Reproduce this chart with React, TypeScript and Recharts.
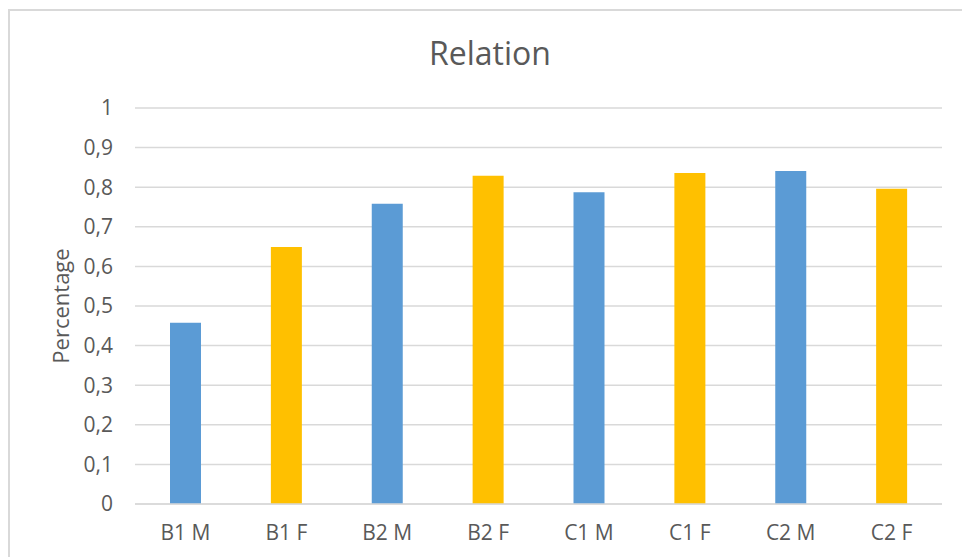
import { Bar, BarChart, CartesianGrid, Cell, XAxis, YAxis } from "recharts";

const categories = ["B1 M", "B1 F", "B2 M", "B2 F", "C1 M", "C1 F", "C2 M", "C2 F"];
const percentages = [0.458, 0.649, 0.758, 0.829, 0.787, 0.836, 0.841, 0.796];
const barColors = ["#5B9BD5", "#FFC000", "#5B9BD5", "#FFC000", "#5B9BD5", "#FFC000", "#5B9BD5", "#FFC000"];
const yTicks = [0, 0.1, 0.2, 0.3, 0.4, 0.5, 0.6, 0.7, 0.8, 0.9, 1];

const data = categories.map((name, i) => ({ name, value: percentages[i] }));

const FONT = "'Open Sans', 'Liberation Sans', sans-serif";
const TEXT = "#595959";
const LINE = "#d9d9d9";

const formatTick = (v: number) => String(Math.round(v * 10) / 10).replace(".", ",");

// rotated y-axis title, centred on the plot height
function AxisTitle({ viewBox }: any) {
  const x = (viewBox?.x ?? 0) + 60;
  const y = (viewBox?.y ?? 108) + (viewBox?.height ?? 396) / 2;
  return (
    <text
      x={x}
      y={y}
      transform={`rotate(-90, ${x}, ${y})`}
      textAnchor="middle"
      dominantBaseline="central"
      fill={TEXT}
      fontSize={22}
      fontFamily={FONT}
    >
      Percentage
    </text>
  );
}

export default function App() {
  return (
    <div style={{ position: "relative", width: 962, height: 557, overflow: "hidden", background: "#fff", fontFamily: FONT }}>
      <style>{`body { margin: 0; }`}</style>
      {/* chart frame, runs off the right and bottom edge */}
      <div
        style={{
          position: "absolute",
          left: 8,
          top: 9,
          width: 1000,
          height: 600,
          borderTop: `2px solid ${LINE}`,
          borderLeft: `2px solid ${LINE}`,
        }}
      />
      <div
        style={{
          position: "absolute",
          left: 0,
          top: 34,
          width: 980,
          textAlign: "center",
          fontSize: 32,
          lineHeight: "38px",
          color: TEXT,
        }}
      >
        Relation
      </div>
      <div style={{ position: "absolute", left: 0, top: 0 }}>
        <BarChart
          width={962}
          height={557}
          data={data}
          margin={{ top: 108, right: 20, bottom: 0, left: 0 }}
          barSize={31}
        >
          <CartesianGrid vertical={false} stroke={LINE} strokeWidth={1.5} />
          <XAxis
            dataKey="name"
            axisLine={{ stroke: LINE, strokeWidth: 1.5 }}
            tickLine={false}
            tickSize={0}
            tickMargin={21}
            height={53}
            interval={0}
            tick={{ fill: TEXT, fontSize: 21, fontFamily: FONT }}
          />
          <YAxis
            domain={[0, 1]}
            ticks={yTicks}
            interval={0}
            width={135}
            axisLine={false}
            tickLine={false}
            tickSize={0}
            tickMargin={22}
            tickFormatter={formatTick}
            tick={{ fill: TEXT, fontSize: 21, fontFamily: FONT }}
            label={<AxisTitle />}
          />
          <Bar dataKey="value" isAnimationActive={false}>
            {data.map((d, i) => (
              <Cell key={d.name} fill={barColors[i]} />
            ))}
          </Bar>
        </BarChart>
      </div>
    </div>
  );
}
